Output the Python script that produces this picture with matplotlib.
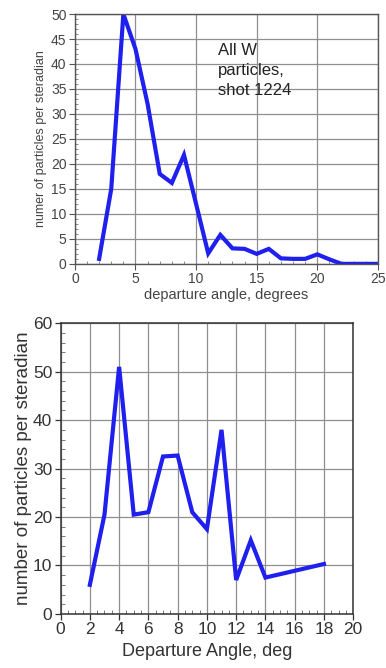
import matplotlib
matplotlib.use("Agg", force=True)
import matplotlib.pyplot as plt
from matplotlib.ticker import MultipleLocator

# top panel: all W particles, shot 1224
top_angle = [2, 3, 4, 5, 6, 7, 8, 9, 10, 11, 12, 13, 14, 15, 16, 17, 18, 19, 20, 21, 22, 23, 24, 25]
top_count = [1, 15, 50, 43, 32, 18, 16.2, 21.8, 12, 2.1, 5.8, 3.1, 3, 2, 3, 1.1, 1, 1, 1.9, 0.9, 0, 0, 0, 0]

# bottom panel
bot_angle = [2, 3, 4, 5, 6, 7, 8, 9, 10, 11, 12, 13, 14, 18]
bot_count = [6, 20.5, 51, 20.5, 21, 32.5, 32.7, 21, 17.5, 38, 7, 15.2, 7.5, 10.3]

plt.rcParams["font.family"] = ["Liberation Sans", "DejaVu Sans"]
BLUE = "#1f1fee"
GRID = "#8f8f8f"

fig = plt.figure(figsize=(3.86, 6.68), dpi=100)

# --- top ---
ax1 = fig.add_axes([0.194, 0.605, 0.785, 0.374])
ax1.plot(top_angle, top_count, color=BLUE, lw=3, solid_joinstyle="miter")
ax1.set_xlim(0, 25)
ax1.set_ylim(0, 50)
ax1.xaxis.set_major_locator(MultipleLocator(5))
ax1.xaxis.set_minor_locator(MultipleLocator(1))
ax1.yaxis.set_major_locator(MultipleLocator(5))
ax1.yaxis.set_minor_locator(MultipleLocator(1))
ax1.grid(True, which="major", color=GRID, lw=0.9)
ax1.tick_params(which="major", direction="out", length=4, width=0.8, color="#555555",
                labelsize=10, labelcolor="#444444", pad=2)
ax1.tick_params(which="minor", direction="in", length=2.5, width=0.6, color="#777777")
for s in ax1.spines.values():
    s.set_color("#555555")
    s.set_linewidth(1.0)
ax1.set_xlabel("departure angle, degrees", fontsize=10.5, color="#444444", labelpad=1)
ax1.set_ylabel("numer of particles per steradian", fontsize=9, color="#444444", labelpad=3)
ax1.text(11.8, 44.3, "All W\nparticles,\nshot 1224", fontsize=12, color="#222222",
         va="top", ha="left", linespacing=1.45)

# --- bottom ---
ax2 = fig.add_axes([0.157, 0.081, 0.758, 0.435])
ax2.plot(bot_angle, bot_count, color=BLUE, lw=3, solid_joinstyle="miter")
ax2.set_xlim(0, 20)
ax2.set_ylim(0, 60)
ax2.xaxis.set_major_locator(MultipleLocator(2))
ax2.xaxis.set_minor_locator(MultipleLocator(0.5))
ax2.yaxis.set_major_locator(MultipleLocator(10))
ax2.yaxis.set_minor_locator(MultipleLocator(2))
ax2.grid(True, which="major", color=GRID, lw=0.9)
ax2.tick_params(which="major", direction="out", length=4, width=0.9, color="#333333",
                labelsize=12.5, labelcolor="#333333", pad=2)
ax2.tick_params(which="minor", direction="in", length=3, width=0.6, color="#666666")
for s in ax2.spines.values():
    s.set_color("#333333")
    s.set_linewidth(1.1)
ax2.set_xlabel("Departure Angle, deg", fontsize=13, color="#333333", labelpad=4)
ax2.set_ylabel("number of particles per steradian", fontsize=13.5, color="#333333", labelpad=1)

fig.savefig("out.png", dpi=100)
